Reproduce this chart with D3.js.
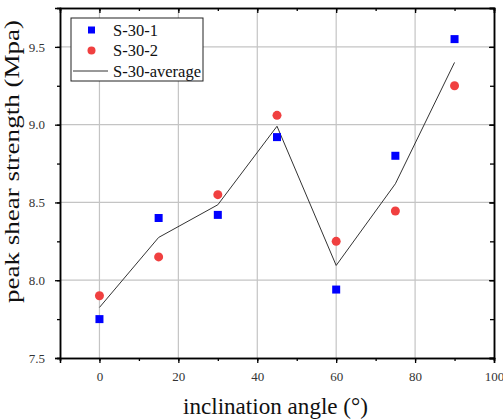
<!DOCTYPE html>
<html>
<head>
<meta charset="utf-8">
<script src="https://cdn.jsdelivr.net/npm/d3@7"></script>
<style>
  body { margin: 0; background: #fff; }
  svg { display: block; font-family: "Liberation Serif", "DejaVu Serif", serif; }
</style>
</head>
<body>
<svg id="chart"></svg>
<script>
// inclination angle (degrees)
const angles = [0, 15, 30, 45, 60, 75, 90];
const s1 = [7.75, 8.40, 8.42, 8.92, 7.94, 8.80, 9.55];
const s2 = [7.90, 8.15, 8.55, 9.06, 8.25, 8.445, 9.25];
const avg = [7.825, 8.275, 8.485, 8.99, 8.095, 8.62, 9.40];
const xTicks = [0, 20, 40, 60, 80, 100];
const yTicks = [7.5, 8.0, 8.5, 9.0, 9.5];
const legendNames = ['S-30-1', 'S-30-2', 'S-30-average'];

const width = 503, height = 419;
const margin = {top: 8, right: 9, bottom: 61, left: 60};
const serif = '"Liberation Serif", "DejaVu Serif", serif';

const svg = d3.select('#chart').attr('width', width).attr('height', height);

const x = d3.scaleLinear().domain([-10, 100]).range([margin.left, width - margin.right]);
const y = d3.scaleLinear().domain([7.5, 9.75]).range([height - margin.bottom, margin.top]);

// grid
svg.append('g').selectAll('line').data(xTicks.filter(d => d > -10 && d < 100)).enter()
  .append('line')
  .attr('x1', d => x(d)).attr('x2', d => x(d))
  .attr('y1', y.range()[0]).attr('y2', y.range()[1])
  .attr('stroke', '#c4c4c4').attr('stroke-width', 1.2);
svg.append('g').selectAll('line').data(yTicks.filter(d => d > 7.5)).enter()
  .append('line')
  .attr('y1', d => y(d)).attr('y2', d => y(d))
  .attr('x1', x.range()[0]).attr('x2', x.range()[1])
  .attr('stroke', '#c4c4c4').attr('stroke-width', 1.2);

const xMinor = d3.range(-10, 101, 10);
const yMinor = d3.range(7.5, 9.76, 0.25);

function styleAxis(g) {
  g.attr('font-family', serif).attr('font-size', 13);
  g.select('.domain').attr('stroke', '#000').attr('stroke-width', 1.5);
  g.selectAll('.tick line').attr('stroke', '#000').attr('stroke-width', 1.3);
  g.selectAll('text').attr('fill', '#333').style('font-family', serif).style('font-size', '13px');
}

// bottom axis (outward ticks)
svg.append('g')
  .attr('transform', `translate(0,${y.range()[0]})`)
  .call(d3.axisBottom(x).tickValues(xMinor).tickSize(3).tickFormat(''))
  .call(styleAxis);
svg.append('g')
  .attr('transform', `translate(0,${y.range()[0]})`)
  .call(d3.axisBottom(x).tickValues(xTicks).tickSize(5).tickPadding(9).tickFormat(d3.format('d')))
  .call(styleAxis);

// top axis (inward ticks)
svg.append('g')
  .attr('transform', `translate(0,${y.range()[1]})`)
  .call(d3.axisTop(x).tickValues(xMinor).tickSize(-3).tickFormat(''))
  .call(styleAxis);
svg.append('g')
  .attr('transform', `translate(0,${y.range()[1]})`)
  .call(d3.axisTop(x).tickValues(xTicks).tickSize(-5).tickFormat(''))
  .call(styleAxis);

// left axis (outward ticks)
svg.append('g')
  .attr('transform', `translate(${x.range()[0]},0)`)
  .call(d3.axisLeft(y).tickValues(yMinor).tickSize(3).tickFormat(''))
  .call(styleAxis);
svg.append('g')
  .attr('transform', `translate(${x.range()[0]},0)`)
  .call(d3.axisLeft(y).tickValues(yTicks).tickSize(5).tickPadding(10).tickFormat(d3.format('.1f')))
  .call(styleAxis);

// right axis (inward ticks)
svg.append('g')
  .attr('transform', `translate(${x.range()[1]},0)`)
  .call(d3.axisRight(y).tickValues(yMinor).tickSize(-4).tickFormat(''))
  .call(styleAxis);
svg.append('g')
  .attr('transform', `translate(${x.range()[1]},0)`)
  .call(d3.axisRight(y).tickValues(yTicks).tickSize(-5).tickFormat(''))
  .call(styleAxis);

// average line
const line = d3.line().x((d, i) => x(angles[i])).y(d => y(d));
svg.append('path').datum(avg)
  .attr('d', line)
  .attr('fill', 'none').attr('stroke', '#333').attr('stroke-width', 1);

// series 1 squares
svg.append('g').selectAll('rect').data(s1).enter()
  .append('rect')
  .attr('x', (d, i) => x(angles[i]) - 4)
  .attr('y', d => y(d) - 4)
  .attr('width', 8).attr('height', 8)
  .attr('fill', '#0000ff');

// series 2 circles
svg.append('g').selectAll('circle').data(s2).enter()
  .append('circle')
  .attr('cx', (d, i) => x(angles[i]))
  .attr('cy', d => y(d))
  .attr('r', 4.5)
  .attr('fill', '#f04040');

// legend
const lg = svg.append('g').attr('transform', 'translate(71,18)');
lg.append('rect').attr('width', 132).attr('height', 63)
  .attr('fill', '#fff').attr('stroke', '#222').attr('stroke-width', 1);
legendNames.forEach((name, i) => {
  const cy = 12 + i * 20.5;
  if (i === 0) {
    lg.append('rect').attr('x', 17).attr('y', cy - 3.5).attr('width', 7).attr('height', 7).attr('fill', '#0000ff');
  } else if (i === 1) {
    lg.append('circle').attr('cx', 20.5).attr('cy', cy).attr('r', 4).attr('fill', '#f04040');
  } else {
    lg.append('line').attr('x1', 2).attr('x2', 37).attr('y1', cy).attr('y2', cy)
      .attr('stroke', '#333').attr('stroke-width', 1);
  }
  lg.append('text').attr('x', 42).attr('y', cy + 5.5)
    .style('font-size', '16.5px').attr('fill', '#111').text(name);
});

// axis titles
svg.append('text')
  .attr('x', 275.5).attr('y', 414)
  .attr('text-anchor', 'middle')
  .attr('textLength', 185).attr('lengthAdjust', 'spacingAndGlyphs')
  .style('font-size', '24px').attr('fill', '#111')
  .text('inclination angle (°)');
svg.append('text')
  .attr('transform', 'translate(19,161.5) rotate(-90)')
  .attr('text-anchor', 'middle')
  .attr('textLength', 283).attr('lengthAdjust', 'spacingAndGlyphs')
  .style('font-size', '21px').attr('fill', '#111')
  .text('peak shear strength (Mpa)');
</script>
</body>
</html>
